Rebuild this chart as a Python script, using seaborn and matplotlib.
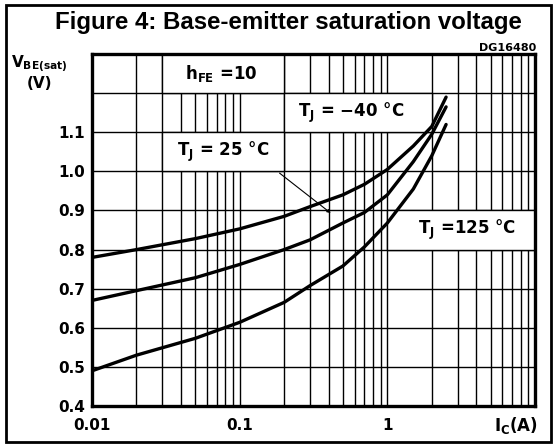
import numpy as np
import pandas as pd
import seaborn as sns
import matplotlib.pyplot as plt
from matplotlib.patches import Rectangle

# values
ic = [0.01, 0.02, 0.05, 0.1, 0.2, 0.3, 0.5, 0.7, 1.0, 1.5, 2.0, 2.5]
vbe_m40 = [0.78, 0.80, 0.828, 0.853, 0.885, 0.91, 0.94, 0.967, 1.005, 1.065, 1.115, 1.19]
vbe_25 = [0.67, 0.695, 0.728, 0.762, 0.80, 0.825, 0.868, 0.895, 0.94, 1.025, 1.095, 1.165]
vbe_125 = [0.49, 0.53, 0.573, 0.614, 0.665, 0.708, 0.758, 0.807, 0.868, 0.955, 1.04, 1.12]

x_ticks = [0.01, 0.1, 1]
x_ticklabels = ['0.01', '0.1', '1']
y_ticks = [0.4, 0.5, 0.6, 0.7, 0.8, 0.9, 1.0, 1.1]
y_ticklabels = ['0.4', '0.5', '0.6', '0.7', '0.8', '0.9', '1.0', '1.1']

df = pd.DataFrame({
    'ic': ic * 3,
    'vbe': vbe_m40 + vbe_25 + vbe_125,
    'tj': ['-40'] * len(ic) + ['25'] * len(ic) + ['125'] * len(ic),
})

sns.set_style('white')
plt.rcParams['font.family'] = ['DejaVu Sans']
plt.rcParams['mathtext.fontset'] = 'dejavusans'
plt.rcParams['mathtext.default'] = 'bf'
plt.rcParams['text.color'] = 'black'
plt.rcParams['xtick.color'] = 'black'
plt.rcParams['ytick.color'] = 'black'

fig = plt.figure(figsize=(5.56, 4.46), dpi=100)
ax = fig.add_axes([0.1655, 0.0897, 0.7967, 0.789])

sns.lineplot(data=df, x='ic', y='vbe', units='tj', estimator=None,
             color='black', lw=2.4, ax=ax, zorder=3, legend=False)

ax.set_xscale('log')
ax.set_xlim(0.01, 10)
ax.set_ylim(0.4, 1.3)
ax.set_axisbelow(True)
ax.grid(True, which='both', axis='x', color='black', lw=1.0)
ax.set_yticks(y_ticks)
ax.set_yticks([1.2], minor=True)
ax.grid(True, which='both', axis='y', color='black', lw=1.0)
ax.set_yticklabels(y_ticklabels)
ax.set_xticks(x_ticks)
ax.set_xticklabels(x_ticklabels)
ax.tick_params(axis='both', which='both', length=0, labelsize=11)
ax.tick_params(axis='x', pad=9)
ax.tick_params(axis='y', pad=5)
for lab in ax.get_xticklabels() + ax.get_yticklabels():
    lab.set_fontweight('bold')
ax.set_xlabel('')
ax.set_ylabel('')
for s in ax.spines.values():
    s.set_color('black')
    s.set_linewidth(2.4)

# white label cells
cells = [(0.03, 0.2, 1.2, 1.3), (0.2, 2.0, 1.1, 1.2), (0.03, 0.2, 1.0, 1.1), (1.0, 10.0, 0.8, 0.9)]
for x0, x1, y0, y1 in cells:
    ax.add_patch(Rectangle((x0, y0), x1 - x0, y1 - y0, facecolor='white',
                           edgecolor='black', lw=1.0, zorder=1))

fs = 12
ax.text(0.075, 1.25, r'$h_{FE}$ =10', ha='center', va='center', fontsize=fs, fontweight='bold', zorder=4)
ax.text(0.57, 1.15, r'$T_J$ = −40 °C', ha='center', va='center', fontsize=fs, fontweight='bold', zorder=4)
ax.text(0.077, 1.05, r'$T_J$ = 25 °C', ha='center', va='center', fontsize=fs, fontweight='bold', zorder=4)
ax.text(3.45, 0.85, r'$T_J$ =125 °C', ha='center', va='center', fontsize=fs, fontweight='bold', zorder=4)
ax.annotate('', xy=(0.428, 0.889), xytext=(0.18, 1.0),
            arrowprops=dict(arrowstyle='-|>', color='black', lw=0.8, mutation_scale=5), zorder=4)

fig.text(288 / 556, 1 - 23 / 446, 'Figure 4: Base-emitter saturation voltage',
         ha='center', va='center', fontsize=17.3, fontweight='bold', family='Liberation Sans')
fig.text(536 / 556, 1 - 48 / 446, 'DG16480', ha='right', va='center', fontsize=8, fontweight='bold')
fig.text(11 / 556, 1 - 64 / 446, r'$V_{BE(sat)}$', ha='left', va='center', fontsize=11)
fig.text(40 / 556, 1 - 83 / 446, '(V)', ha='center', va='center', fontsize=11, fontweight='bold')
fig.text(538 / 556, 1 - 426 / 446, r'$I_C$(A)', ha='right', va='center', fontsize=12, fontweight='bold')

fig.patches.append(Rectangle((6 / 556, 4 / 446), 545 / 556, 437 / 446, transform=fig.transFigure,
                             fill=False, edgecolor='black', lw=2.0))

fig.savefig('out.png', dpi=100)
